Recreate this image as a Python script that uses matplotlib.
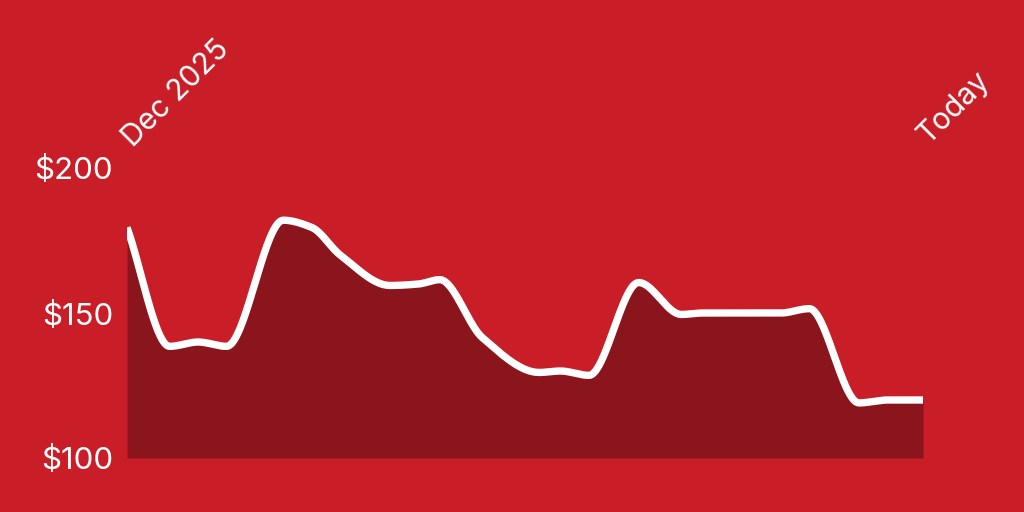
import numpy as np
import matplotlib
matplotlib.use("Agg")
import matplotlib.pyplot as plt

# price history, x = days since start of Dec 2025
days = [0, 6, 10, 14, 22, 26, 30, 37, 41, 44, 50, 58, 61, 65, 72, 78, 81, 92, 96, 103, 107, 112]
prices = [179.5, 138.5, 140, 138.5, 182, 179.5, 170, 159.5, 160, 161.5, 141.5, 129.5,
          130, 128.5, 160.5, 149.5, 150, 150, 151.5, 119, 120, 120]
tick_labels = ["Dec 2025", "Today"]
y_ticks = [100, 150, 200]

BG = "#C91D27"
FILL = "#8B151C"

plt.rcParams['font.family'] = ['Inter', 'DejaVu Sans']


def pchip(x, y, xs):
    # monotone cubic (Fritsch-Carlson), like a "monotone" curve in web charts
    x = np.asarray(x, float)
    y = np.asarray(y, float)
    h = np.diff(x)
    d = np.diff(y) / h
    m = np.zeros_like(y)
    for k in range(1, len(x) - 1):
        if d[k - 1] * d[k] > 0:
            w1 = 2 * h[k] + h[k - 1]
            w2 = h[k] + 2 * h[k - 1]
            m[k] = (w1 + w2) / (w1 / d[k - 1] + w2 / d[k])
    m[0] = d[0]
    m[-1] = d[-1]
    idx = np.clip(np.searchsorted(x, xs) - 1, 0, len(h) - 1)
    t = (xs - x[idx]) / h[idx]
    h00 = 2 * t**3 - 3 * t**2 + 1
    h10 = t**3 - 2 * t**2 + t
    h01 = -2 * t**3 + 3 * t**2
    h11 = t**3 - t**2
    return h00 * y[idx] + h10 * h[idx] * m[idx] + h01 * y[idx + 1] + h11 * h[idx] * m[idx + 1]


xs = np.linspace(days[0], days[-1], 1200)
ys = pchip(days, prices, xs)

fig = plt.figure(figsize=(10.24, 5.12), dpi=100)
fig.patch.set_facecolor(BG)
ax = fig.add_axes([127 / 1024, 54 / 512, 796 / 1024, 290 / 512])
ax.set_facecolor(BG)

ax.fill_between(xs, 100, ys, color=FILL, linewidth=0)
ax.plot(xs, ys, color="white", linewidth=5.3, solid_capstyle="butt", solid_joinstyle="round")

ax.set_xlim(days[0], days[-1])
ax.set_ylim(100, 200)
for s in ax.spines.values():
    s.set_visible(False)

ax.set_xticks([])
ax.set_yticks(y_ticks)
ax.set_yticklabels([f"${v}" for v in y_ticks], color="white", fontsize=22.5)
ax.tick_params(axis="y", length=0, pad=10)

for xv, lab, off in zip([days[0], days[-1]], tick_labels, [(6, 20), (5, 23)]):
    ax.annotate(lab, xy=(xv, 200), xytext=off, textcoords="offset pixels",
                rotation=45, rotation_mode="anchor", ha="left", va="baseline",
                color="white", fontsize=21.5, annotation_clip=False)

fig.savefig("out.png", dpi=100, facecolor=BG)
